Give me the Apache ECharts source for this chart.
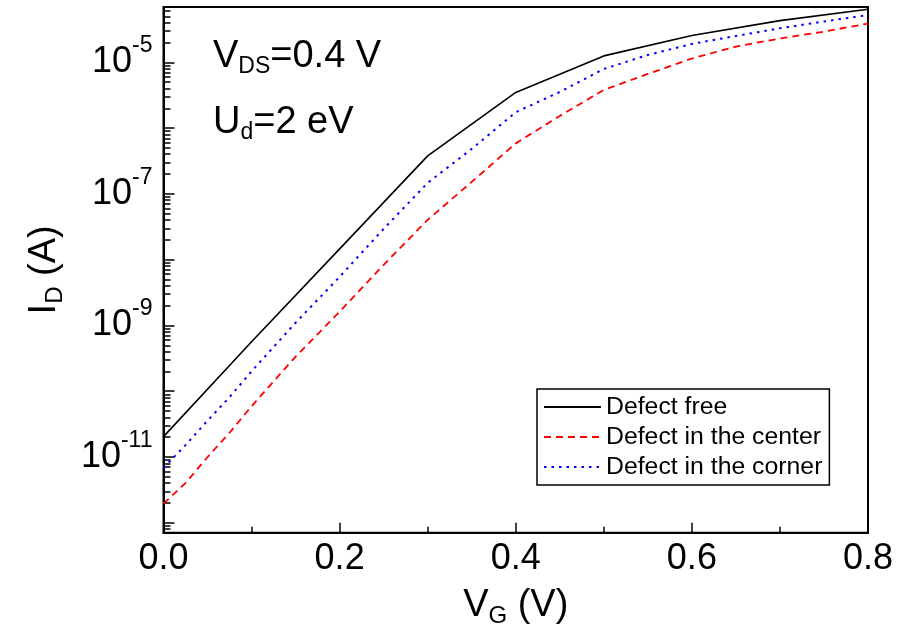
<!DOCTYPE html>
<html>
<head>
<meta charset="utf-8">
<script src="https://cdn.jsdelivr.net/npm/echarts@6/dist/echarts.min.js"></script>
<style>
  html, body { margin: 0; padding: 0; background: #fff; }
  #chart { width: 912px; height: 632px; }
</style>
</head>
<body>
<div id="chart"></div>
<script>
// gate voltage (V) for each curve
const vgFree = [0, 0.1, 0.2, 0.3, 0.4, 0.5, 0.6, 0.7, 0.8];
const vgDefect = [0, 0.025, 0.05, 0.075, 0.1, 0.15, 0.2, 0.25, 0.3, 0.35, 0.4, 0.45, 0.5, 0.55, 0.6, 0.65, 0.7, 0.75, 0.8];

// drain current I_D (A)
const idFree = [2.04e-11, 5.65e-10, 1.46e-8, 3.78e-7, 3.48e-6, 1.25e-5, 2.55e-5, 4.29e-5, 6.38e-5];
const idCenter = [1.96e-12, 4.02e-12, 1.0e-11, 2.34e-11, 5.93e-11, 3.35e-10, 1.62e-9, 8.36e-9, 4.03e-8, 1.52e-7,
  5.85e-7, 1.53e-6, 3.80e-6, 6.64e-6, 1.14e-5, 1.73e-5, 2.30e-5, 2.92e-5, 3.88e-5];
const idCorner = [6.82e-12, 1.52e-11, 3.57e-11, 8.13e-11, 2.01e-10, 1.10e-9, 5.48e-9, 2.94e-8, 1.47e-7, 4.82e-7,
  1.74e-6, 3.54e-6, 7.91e-6, 1.29e-5, 1.90e-5, 2.51e-5, 3.28e-5, 4.17e-5, 5.22e-5];

const seriesNames = ['Defect free', 'Defect in the center', 'Defect in the corner'];

const font = '"Liberation Sans", Arial, sans-serif';

function pairs(xs, ys) {
  return xs.map((x, i) => [x, ys[i]]);
}

const chart = echarts.init(document.getElementById('chart'), null, { renderer: 'canvas' });

const option = {
  animation: false,
  backgroundColor: '#fff',
  textStyle: { fontFamily: font, color: '#000' },
  grid: {
    left: 163.5, right: 44, top: 7, bottom: 99.3,
    show: true, borderColor: '#000', borderWidth: 2,
    containLabel: false, outerBoundsMode: 'none'
  },
  legend: {
    orient: 'vertical',
    left: 537, top: 389,
    padding: [3, 7, 3, 6],
    itemWidth: 57, itemHeight: 14, itemGap: 0, itemTextGap: 7,
    borderColor: '#000', borderWidth: 1.5, borderRadius: 0,
    itemStyle: { opacity: 0 },
    textStyle: { fontFamily: font, fontSize: 24.8, lineHeight: 30, color: '#000' },
    data: seriesNames
  },
  xAxis: {
    type: 'value', min: 0, max: 0.8, interval: 0.2,
    name: '{a|V}{b|G}{a| (V)}',
    nameLocation: 'middle', nameGap: 50,
    nameTextStyle: {
      rich: {
        a: { fontFamily: font, fontSize: 38, color: '#000' },
        b: { fontFamily: font, fontSize: 24, color: '#000', padding: [22, 0, 0, 0] }
      }
    },
    axisLine: { lineStyle: { color: '#000', width: 2 } },
    axisTick: { inside: true, length: 10, lineStyle: { color: '#000', width: 1.5 } },
    minorTick: { show: true, splitNumber: 2, length: 6, lineStyle: { color: '#000', width: 1.5 } },
    splitLine: { show: false },
    axisLabel: {
      fontFamily: font, fontSize: 36, color: '#000', margin: 8,
      formatter: v => v.toFixed(1)
    }
  },
  yAxis: {
    type: 'log', logBase: 10,
    min: Math.pow(10, -12.15), max: Math.pow(10, -4.16),
    splitNumber: 8,
    name: '{a|I}{b|D}{a| (A)}',
    nameLocation: 'middle', nameGap: 96, nameRotate: 90,
    nameTextStyle: {
      rich: {
        a: { fontFamily: font, fontSize: 38, color: '#000' },
        b: { fontFamily: font, fontSize: 24, color: '#000', padding: [22, 0, 0, 0] }
      }
    },
    axisLine: { lineStyle: { color: '#000', width: 2 } },
    axisTick: { inside: true, length: 11, lineStyle: { color: '#000', width: 1.5 } },
    minorTick: { show: true, splitNumber: 9, length: 7, lineStyle: { color: '#000', width: 1.5 } },
    splitLine: { show: false },
    axisLabel: {
      margin: 11,
      formatter: function (v) {
        const l = Math.log10(v);
        const e = Math.round(l);
        if (Math.abs(l - e) > 1e-6 || e % 2 === 0) return '';
        return '{a|10}{b|' + e + '}';
      },
      rich: {
        a: { fontFamily: font, fontSize: 36, color: '#000' },
        b: { fontFamily: font, fontSize: 23, color: '#000', padding: [0, 0, 33, 0] }
      }
    }
  },
  graphic: [
    {
      type: 'text', left: 213, top: 38,
      style: {
        text: '{a|V}{b|DS}{a|=0.4 V}',
        rich: {
          a: { fontFamily: font, fontSize: 38, fill: '#000' },
          b: { fontFamily: font, fontSize: 23, fill: '#000', padding: [20, 0, 0, 0] }
        }
      }
    },
    {
      type: 'text', left: 213, top: 104,
      style: {
        text: '{a|U}{b|d}{a|=2 eV}',
        rich: {
          a: { fontFamily: font, fontSize: 38, fill: '#000' },
          b: { fontFamily: font, fontSize: 23, fill: '#000', padding: [20, 0, 0, 0] }
        }
      }
    }
  ],
  series: [
    {
      name: seriesNames[0], type: 'line', symbol: 'none',
      data: pairs(vgFree, idFree),
      lineStyle: { color: '#000', width: 1.6, type: 'solid' },
      itemStyle: { color: '#000' }
    },
    {
      name: seriesNames[1], type: 'line', symbol: 'none',
      data: pairs(vgDefect, idCenter),
      lineStyle: { color: '#ff0000', width: 1.8, type: [7, 5] },
      itemStyle: { color: '#ff0000' }
    },
    {
      name: seriesNames[2], type: 'line', symbol: 'none',
      data: pairs(vgDefect, idCorner),
      lineStyle: { color: '#0000ff', width: 2, type: [2.5, 5] },
      itemStyle: { color: '#0000ff' }
    }
  ]
};

chart.setOption(option);
</script>
</body>
</html>
